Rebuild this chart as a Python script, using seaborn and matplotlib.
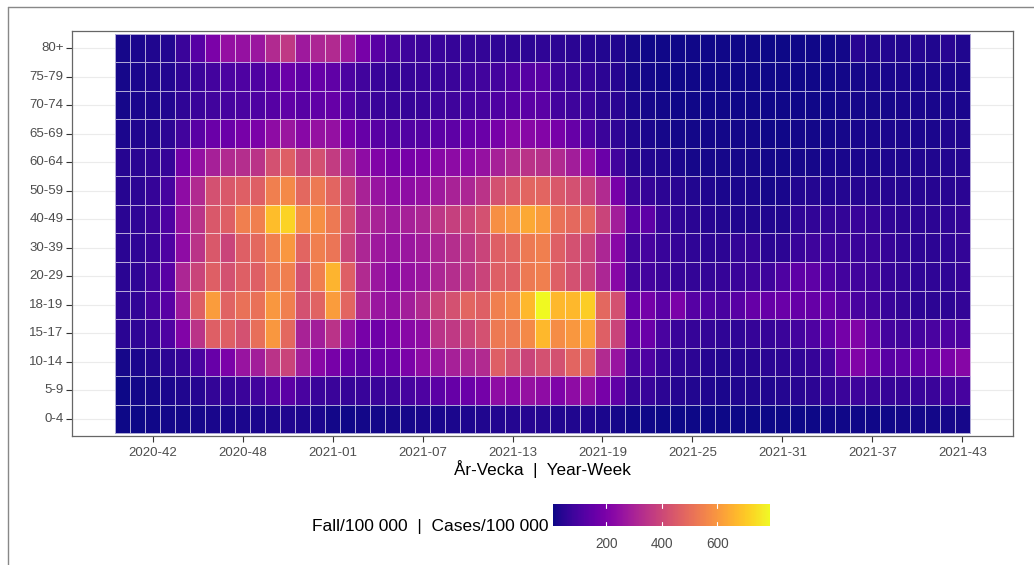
import numpy as np
import pandas as pd
import matplotlib
matplotlib.use("Agg")
import matplotlib.pyplot as plt
from matplotlib.lines import Line2D
import seaborn as sns

weeks = ["2020-40", "2020-41", "2020-42", "2020-43", "2020-44", "2020-45", "2020-46",
         "2020-47", "2020-48", "2020-49", "2020-50", "2020-51", "2020-52", "2020-53",
         "2021-01", "2021-02", "2021-03", "2021-04", "2021-05", "2021-06", "2021-07",
         "2021-08", "2021-09", "2021-10", "2021-11", "2021-12", "2021-13", "2021-14",
         "2021-15", "2021-16", "2021-17", "2021-18", "2021-19", "2021-20", "2021-21",
         "2021-22", "2021-23", "2021-24", "2021-25", "2021-26", "2021-27", "2021-28",
         "2021-29", "2021-30", "2021-31", "2021-32", "2021-33", "2021-34", "2021-35",
         "2021-36", "2021-37", "2021-38", "2021-39", "2021-40", "2021-41", "2021-42",
         "2021-43"]
week_ticks = ["2020-42", "2020-48", "2021-01", "2021-07", "2021-13", "2021-19",
              "2021-25", "2021-31", "2021-37", "2021-43"]

ages = ["80+", "75-79", "70-74", "65-69", "60-64", "50-59", "40-49", "30-39",
        "20-29", "18-19", "15-17", "10-14", "5-9", "0-4"]

age_80 = [20, 25, 30, 35, 75, 125, 200, 250, 255, 265, 320, 360, 275, 310,
          320, 275, 190, 130, 100, 80, 75, 70, 65, 62, 60, 55, 55, 50, 55,
          50, 45, 40, 35, 30, 20, 12, 12, 12, 12, 12, 12, 12, 12,
          10, 10, 12, 12, 12, 15, 42, 30, 35, 32, 38, 30, 42, 32]
age_75 = [20, 25, 30, 35, 55, 75, 90, 105, 110, 110, 135, 165, 140, 155,
          145, 105, 85, 70, 65, 65, 70, 72, 75, 80, 85, 90, 110, 125, 130,
          80, 70, 65, 50, 40, 20, 15, 12, 12, 12, 12, 12, 12, 12,
          12, 12, 13, 13, 14, 15, 20, 22, 22, 25, 22, 25, 25, 25]
age_70 = [20, 25, 28, 35, 55, 75, 85, 95, 105, 110, 125, 145, 130, 145,
          155, 115, 85, 75, 70, 65, 72, 80, 82, 88, 95, 110, 125, 135, 135,
          90, 80, 75, 50, 45, 25, 20, 15, 14, 13, 13, 13, 13, 13,
          12, 13, 13, 14, 14, 15, 18, 20, 20, 22, 22, 22, 24, 25]
age_65 = [25, 30, 35, 50, 85, 130, 165, 165, 190, 200, 240, 265, 225, 255,
          250, 190, 155, 130, 115, 115, 118, 135, 140, 155, 165, 190, 225, 225, 215,
          190, 155, 110, 75, 55, 30, 25, 20, 16, 15, 15, 15, 15, 15,
          13, 14, 15, 16, 17, 18, 22, 22, 25, 25, 25, 25, 30, 30]
age_60 = [40, 45, 55, 65, 180, 250, 295, 320, 330, 345, 425, 465, 390, 425,
          370, 310, 240, 210, 190, 190, 200, 225, 235, 235, 255, 295, 320, 345, 340,
          320, 285, 250, 165, 85, 40, 35, 30, 25, 20, 19, 18, 18, 18,
          15, 15, 18, 20, 22, 22, 25, 25, 28, 28, 30, 30, 35, 38]
age_50 = [40, 50, 65, 95, 240, 320, 425, 445, 465, 465, 545, 570, 485, 530,
          480, 390, 300, 260, 240, 240, 250, 275, 300, 310, 345, 425, 445, 480, 480,
          445, 425, 390, 320, 190, 75, 65, 50, 45, 35, 30, 25, 25, 25,
          20, 22, 35, 38, 35, 38, 40, 40, 40, 38, 40, 40, 42, 45]
age_40 = [45, 55, 75, 110, 255, 345, 445, 465, 545, 545, 680, 720, 580, 580,
          530, 420, 320, 300, 275, 295, 310, 355, 380, 395, 425, 580, 600, 640, 610,
          510, 490, 485, 390, 285, 130, 140, 70, 55, 45, 40, 35, 30, 30,
          30, 32, 55, 58, 60, 60, 70, 65, 55, 50, 50, 48, 55, 60]
age_30 = [45, 55, 70, 110, 240, 345, 445, 390, 465, 485, 545, 600, 480, 545,
          520, 390, 310, 275, 260, 265, 280, 310, 330, 355, 390, 465, 480, 530, 545,
          465, 425, 390, 310, 225, 85, 95, 70, 65, 55, 50, 50, 60, 65,
          45, 48, 70, 80, 80, 75, 75, 75, 65, 55, 50, 50, 55, 60]
age_20 = [45, 55, 85, 130, 310, 390, 465, 425, 465, 465, 530, 545, 425, 545,
          660, 465, 320, 265, 240, 255, 265, 310, 330, 355, 390, 465, 465, 530, 545,
          465, 425, 390, 310, 225, 85, 90, 75, 65, 60, 60, 65, 75, 80,
          80, 110, 140, 140, 110, 90, 85, 82, 65, 60, 55, 55, 55, 65]
age_18 = [48, 58, 95, 130, 275, 465, 610, 475, 510, 510, 600, 545, 425, 475,
          610, 480, 320, 265, 255, 285, 320, 390, 425, 480, 465, 545, 570, 670, 790,
          670, 670, 710, 485, 425, 160, 185, 135, 200, 125, 115, 100, 130, 155,
          155, 165, 155, 155, 155, 130, 100, 90, 70, 60, 50, 50, 50, 60]
age_15 = [45, 55, 70, 110, 210, 345, 465, 465, 425, 505, 600, 485, 300, 285,
          345, 260, 190, 170, 200, 225, 240, 345, 360, 390, 425, 530, 530, 570, 670,
          575, 600, 630, 465, 390, 145, 165, 100, 75, 65, 60, 55, 55, 65,
          65, 75, 90, 110, 140, 185, 210, 145, 90, 85, 90, 100, 110, 110]
age_10 = [20, 25, 35, 50, 65, 100, 160, 200, 260, 285, 345, 390, 285, 225,
          190, 155, 135, 155, 165, 200, 240, 265, 295, 310, 320, 465, 425, 390, 425,
          425, 480, 475, 320, 260, 100, 110, 70, 55, 50, 40, 35, 40, 40,
          45, 50, 55, 65, 85, 165, 210, 170, 130, 140, 155, 165, 200, 220]
age_5 = [10, 15, 20, 25, 30, 40, 60, 65, 75, 85, 115, 135, 100, 75,
         75, 65, 70, 75, 80, 95, 110, 135, 155, 165, 185, 240, 225, 255, 240,
         205, 240, 250, 190, 145, 65, 70, 50, 40, 35, 30, 25, 30, 30,
         30, 38, 42, 50, 65, 75, 80, 75, 65, 65, 70, 75, 90, 95]
age_0 = [8, 10, 12, 15, 15, 20, 22, 22, 25, 25, 28, 30, 28, 25,
         15, 14, 15, 15, 18, 20, 22, 22, 25, 28, 30, 35, 38, 40, 38,
         30, 30, 30, 25, 20, 12, 12, 10, 10, 9, 9, 9, 9, 9,
         10, 10, 10, 11, 12, 12, 14, 14, 14, 15, 15, 16, 18, 18]

rows = [age_80, age_75, age_70, age_65, age_60, age_50, age_40, age_30,
        age_20, age_18, age_15, age_10, age_5, age_0]
df = pd.DataFrame(rows, index=ages, columns=weeks)

sns.set_style("white")
plt.rcParams["font.family"] = ["Liberation Sans", "DejaVu Sans"]

W, H = 1034, 565
fig = plt.figure(figsize=(W / 100, H / 100), dpi=100)
ax = fig.add_axes([72 / W, 1 - 436 / H, (1013 - 72) / W, 405 / H])
cax = fig.add_axes([553 / W, 1 - 526 / H, 217 / W, 22 / H])

vmin = float(np.min(df.values))
vmax = float(np.max(df.values))
sns.heatmap(df, cmap="plasma", vmin=vmin, vmax=vmax, linewidths=0.6,
            linecolor=(1, 1, 1, 0.65), ax=ax, cbar_ax=cax,
            cbar_kws={"orientation": "horizontal", "ticks": [200, 400, 600]})

nrow, ncol = df.shape
ax.set_xlim(-2.87, ncol + 2.87)
ax.set_ylim(nrow + 0.1, -0.1)

# horizontal grid lines behind tiles
for r in range(nrow):
    ax.axhline(r + 0.5, color="#ebebeb", lw=0.8, zorder=0)
ax.set_axisbelow(True)

tick_pos = [weeks.index(w) + 0.5 for w in week_ticks]
ax.set_xticks(tick_pos)
ax.set_xticklabels(week_ticks, rotation=0, color="#4d4d4d", fontsize=9.5)
ax.set_yticks([r + 0.5 for r in range(nrow)])
ax.set_yticklabels(ages, rotation=0, color="#4d4d4d", fontsize=9.5)
ax.tick_params(axis="x", which="major", length=4, width=0.8,
               color="#333333", pad=4, bottom=True)
ax.tick_params(axis="y", which="major", length=4, width=0.8,
               color="#333333", pad=2, left=True)
ax.set_xlabel("År-Vecka  |  Year-Week", fontsize=12.3, color="black", labelpad=1)
ax.set_ylabel("")
for s in ax.spines.values():
    s.set_visible(True)
    s.set_color("#666666")
    s.set_linewidth(0.9)

cbar = ax.collections[0].colorbar
cbar.outline.set_visible(False)
cax.tick_params(length=0, pad=8, labelsize=9.8, labelcolor="#4d4d4d")
for v in [200, 400, 600]:
    cax.axvline(v, 0, 0.2, color="white", lw=0.8)
    cax.axvline(v, 0.8, 1.0, color="white", lw=0.8)

fig.text(548 / W, 1 - 526 / H, "Fall/100 000  |  Cases/100 000",
         ha="right", va="center", fontsize=12.5, color="black")

# outer frame (top and left)
fig.add_artist(Line2D([8 / W, 8 / W], [0, 1 - 7 / H], transform=fig.transFigure,
                      color="#888888", lw=1))
fig.add_artist(Line2D([8 / W, 1], [1 - 7 / H, 1 - 7 / H], transform=fig.transFigure,
                      color="#888888", lw=1))

fig.savefig("out.png", dpi=100, facecolor="white")
